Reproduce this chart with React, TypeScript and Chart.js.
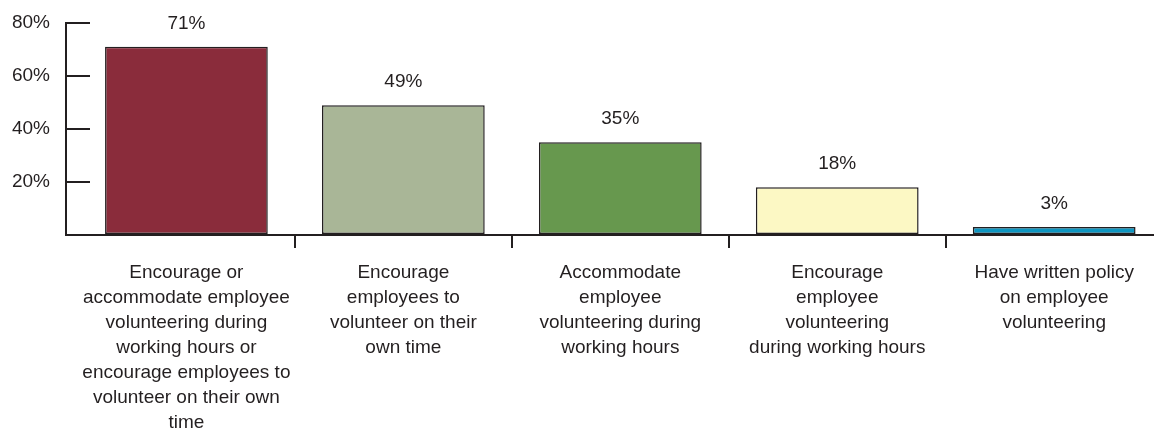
import React, { useEffect, useRef } from "react";
import { Chart, registerables } from "chart.js";

Chart.register(...registerables);

// ---- data ----
const CATEGORY_LINES: string[][] = [
  [
    "Encourage or",
    "accommodate employee",
    "volunteering during",
    "working hours or",
    "encourage employees to",
    "volunteer on their own",
    "time",
  ],
  ["Encourage", "employees to", "volunteer on their", "own time"],
  ["Accommodate", "employee", "volunteering during", "working hours"],
  ["Encourage", "employee", "volunteering", "during working hours"],
  ["Have written policy", "on employee", "volunteering"],
];
const VALUES: number[] = [71, 49, 35, 18, 3];
const BAR_COLORS: string[] = ["#8A2C3B", "#A9B697", "#67984E", "#FCF8C4", "#0E96C1"];
const Y_TICKS: number[] = [0, 20, 40, 60, 80];
const Y_TICK_LABELS: string[] = ["", "20%", "40%", "60%", "80%"];

// ---- style ----
const W = 1154;
const H = 443;
const INK = "#231f20";
const FONT = "'Liberation Sans', Arial, Helvetica, sans-serif";
const FONT_SIZE = 19;

export default function App() {
  const ref = useRef<HTMLCanvasElement | null>(null);

  useEffect(() => {
    if (!ref.current) return;

    const valueLabels = {
      id: "valueLabels",
      afterDatasetsDraw(chart: any) {
        const ctx = chart.ctx;
        const meta = chart.getDatasetMeta(0);
        ctx.save();
        ctx.font = `${FONT_SIZE}px ${FONT}`;
        ctx.fillStyle = INK;
        ctx.textAlign = "center";
        ctx.textBaseline = "alphabetic";
        meta.data.forEach((el: any, i: number) => {
          ctx.fillText(`${VALUES[i]}%`, el.x, el.y - 18);
        });
        ctx.restore();
      },
    };

    const chart = new Chart(ref.current, {
      type: "bar",
      data: {
        datasets: [
          {
            data: VALUES.map((v, i) => ({ x: i + 1, y: v })),
            backgroundColor: BAR_COLORS,
            borderColor: INK,
            borderWidth: 1.5,
            borderSkipped: false,
            barPercentage: 0.75,
            categoryPercentage: 1,
          },
        ],
      },
      options: {
        animation: false,
        responsive: true,
        maintainAspectRatio: false,
        layout: { padding: { top: 23, right: 0, bottom: 0, left: 0 } },
        plugins: {
          legend: { display: false },
          tooltip: { enabled: false },
        },
        scales: {
          x: {
            type: "linear",
            bounds: "data",
            offset: false,
            min: 0.445,
            max: 5.46,
            z: 1,
            afterBuildTicks(scale: any) {
              scale.ticks = CATEGORY_LINES.map((_, i) => ({ value: i + 1 }));
            },
            afterFit(scale: any) {
              scale.height = 208;
            },
            ticks: {
              callback: (v: any) => CATEGORY_LINES[Math.round(Number(v)) - 1] ?? "",
              autoSkip: false,
              maxRotation: 0,
              minRotation: 0,
              padding: 12,
              color: INK,
              font: { family: FONT, size: FONT_SIZE, lineHeight: 25 / FONT_SIZE },
            },
            grid: {
              offset: true,
              drawOnChartArea: false,
              drawTicks: true,
              tickLength: 13,
              tickWidth: 2,
              lineWidth: 2,
              tickColor: (ctx: any) => (ctx.index === 0 ? "rgba(0,0,0,0)" : INK),
              color: (ctx: any) => (ctx.index === 0 ? "rgba(0,0,0,0)" : INK),
            },
            border: { display: true, color: INK, width: 2 },
          },
          y: {
            min: 0,
            max: 80,
            afterBuildTicks(scale: any) {
              scale.ticks = Y_TICKS.map((v) => ({ value: v }));
            },
            afterFit(scale: any) {
              scale.width = 66;
              scale.paddingTop = 0;
              scale.paddingBottom = 0;
            },
            ticks: {
              callback: (v: any) => {
                const i = Y_TICKS.indexOf(Number(v));
                return i >= 0 ? Y_TICK_LABELS[i] : "";
              },
              padding: 40,
              color: INK,
              font: { family: FONT, size: FONT_SIZE },
            },
            grid: {
              drawOnChartArea: false,
              drawTicks: true,
              tickLength: -24,
              tickWidth: 2,
              lineWidth: 2,
              tickColor: INK,
              color: INK,
            },
            border: { display: true, color: INK, width: 2 },
          },
        },
      } as any,
      plugins: [valueLabels],
    });

    return () => chart.destroy();
  }, []);

  return (
    <div
      style={{
        position: "absolute",
        left: 0,
        top: 0,
        width: W,
        height: H,
        background: "#ffffff",
      }}
    >
      <canvas ref={ref} />
    </div>
  );
}
